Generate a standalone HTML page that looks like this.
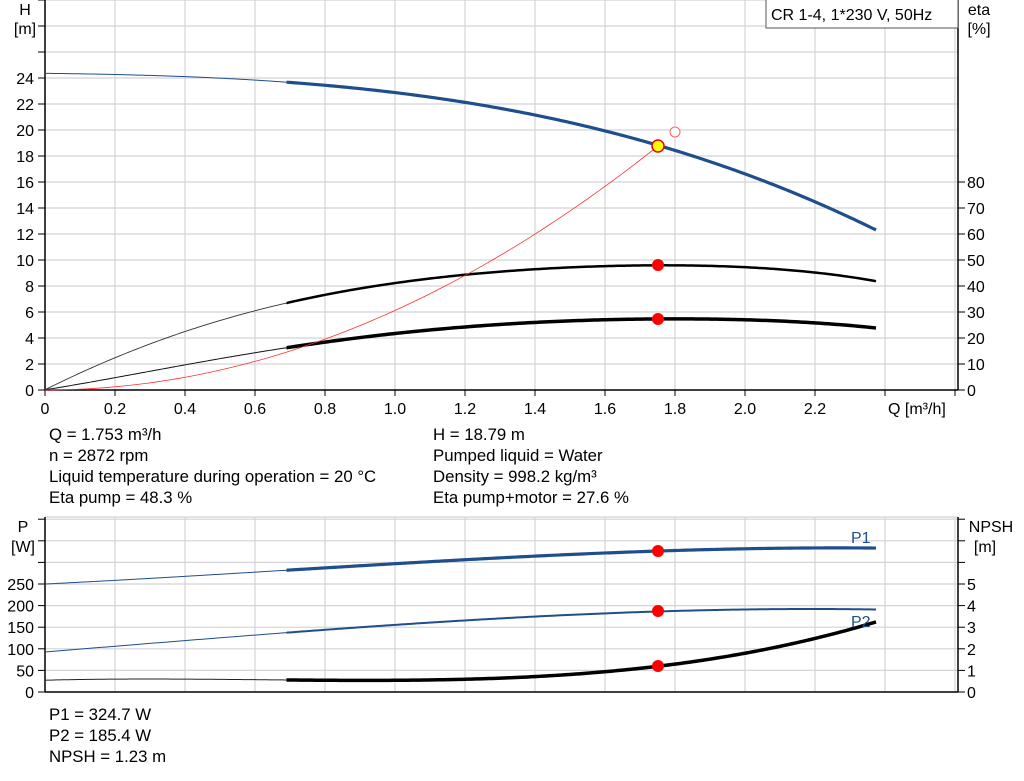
<!DOCTYPE html>
<html><head><meta charset="utf-8"><style>
html,body{margin:0;padding:0;background:#fff;}
svg{display:block;font-family:"Liberation Sans",Arial,sans-serif;}
</style></head><body>
<svg id="s" width="1024" height="781" viewBox="0 0 1024 781" xmlns="http://www.w3.org/2000/svg">
<defs>
<clipPath id="thin"><rect x="0" y="0" width="287" height="781"/></clipPath>
<clipPath id="thick"><rect x="286.5" y="0" width="700" height="781"/></clipPath>
</defs>
<g id="grid"></g>
<g id="curves"></g>
<g font-size="16" fill="#000">
<text x="25" y="15" text-anchor="middle">H</text>
<text x="25" y="34" text-anchor="middle">[m]</text>
<text x="979" y="15" text-anchor="middle">eta</text>
<text x="979" y="34" text-anchor="middle">[%]</text>
<text x="888" y="414">Q [m³/h]</text>
<rect x="766" y="-1" width="192" height="29" fill="#fff" stroke="#555" stroke-width="1"/>
<text x="771" y="20">CR 1-4, 1*230 V, 50Hz</text>
<g font-size="16.8">
<text x="49" y="440">Q = 1.753 m³/h</text>
<text x="49" y="461">n = 2872 rpm</text>
<text x="49" y="482">Liquid temperature during operation = 20 °C</text>
<text x="49" y="503">Eta pump = 48.3 %</text>
<text x="433" y="440">H = 18.79 m</text>
<text x="433" y="461">Pumped liquid = Water</text>
<text x="433" y="482">Density = 998.2 kg/m³</text>
<text x="433" y="503">Eta pump+motor = 27.6 %</text>
<text x="49" y="720">P1 = 324.7 W</text>
<text x="49" y="741">P2 = 185.4 W</text>
<text x="49" y="762">NPSH = 1.23 m</text>
</g>
<text x="23" y="532" text-anchor="middle">P</text>
<text x="23" y="552" text-anchor="middle">[W]</text>
<text x="991" y="532" text-anchor="middle">NPSH</text>
<text x="985" y="552" text-anchor="middle">[m]</text>
<text x="851" y="543" fill="#1f4e8c">P1</text>
<text x="851" y="627" fill="#1f4e8c">P2</text>
</g>
<g id="labels" font-size="16"></g>
</svg>
<script>
const NS="http://www.w3.org/2000/svg";
function el(p,t,a,txt){const e=document.createElementNS(NS,t);for(const k in a)e.setAttribute(k,a[k]);if(txt!==undefined)e.textContent=txt;document.getElementById(p).appendChild(e);return e;}
function line(x1,y1,x2,y2,c,w,p){el(p||"grid","line",{x1,y1,x2,y2,stroke:c,"stroke-width":w});}
const G="#d4d4d8";
for(let i=1;i<=13;i++){const x=45+70*i;if(x<958)line(x,0,x,390,G,1.2);}
for(let v=2;v<=30;v+=2){const y=390-13*v;line(45,y,958,y,G,1.2);}
for(let v=0;v<=30;v+=2){const y=390-13*v;line(38,y,45,y,"#000",1);if(v<=24)el("labels","text",{x:34,y:y+6,"text-anchor":"end"},String(v));}
for(let v=0;v<=80;v+=10){const y=390-2.6*v;line(958,y,965,y,"#000",1);el("labels","text",{x:967,y:y+6},String(v));}
for(let i=0;i<=13;i++){const x=45+70*i;line(x,390,x,396,"#000",1);if(i>=1&&i<=11)el("labels","text",{x:x,y:414,"text-anchor":"middle"},(i*0.2).toFixed(1));}
el("labels","text",{x:45,y:414,"text-anchor":"middle"},"0");
line(45,0,45,390,"#000",1.5);line(958,0,958,390,"#000",1.5);line(45,390,958,390,"#000",1.5);
for(let i=1;i<=13;i++){const x=45+70*i;if(x<958)line(x,517,x,692,G,1.2);}
for(let k=1;k<=8;k++){const y=692-21.6*k;line(45,y,958,y,G,1.2);}
line(45,517,958,517,G,1.2);
for(let k=0;k<=8;k++){const y=692-21.6*k;line(38,y,45,y,"#000",1);line(958,y,965,y,"#000",1);
 if(k<=5){el("labels","text",{x:34,y:y+6,"text-anchor":"end"},String(k*50));el("labels","text",{x:967,y:y+6},String(k));}}
line(45,517,45,692,"#000",1.5);line(958,517,958,692,"#000",1.5);line(45,692,958,692,"#000",1.5);
// least squares polynomial fit
function fit(pts,deg){const n=deg+1;const A=[...Array(n)].map(()=>Array(n+1).fill(0));
 for(const [x0,y] of pts){const x=(x0-45)/100;const p=[];for(let k=0;k<2*n;k++)p.push(Math.pow(x,k));
  for(let i=0;i<n;i++){for(let j=0;j<n;j++)A[i][j]+=p[i+j];A[i][n]+=p[i]*y;}}
 for(let i=0;i<n;i++){let m=i;for(let r=i+1;r<n;r++)if(Math.abs(A[r][i])>Math.abs(A[m][i]))m=r;[A[i],A[m]]=[A[m],A[i]];
  for(let r=0;r<n;r++)if(r!=i){const f=A[r][i]/A[i][i];for(let c=i;c<=n;c++)A[r][c]-=f*A[i][c];}}
 const c=A.map((r,i)=>r[n]/r[i]);return x0=>{const x=(x0-45)/100;let s=0;for(let k=n-1;k>=0;k--)s=s*x+c[k];return s;};}
function pathOf(f,a,b){let d="";for(let x=a;x<=b+0.01;x+=3){d+=(d?" L":"M")+x.toFixed(1)+","+f(x).toFixed(2);}return d;}
function series(pts,deg,cThin,wThin,cThick,wThick){const f=fit(pts,deg);const d=pathOf(f,45,876);
 el("curves","path",{d,fill:"none",stroke:cThin,"stroke-width":wThin,"clip-path":"url(#thin)"});
 el("curves","path",{d,fill:"none",stroke:cThick,"stroke-width":wThick,"clip-path":"url(#thick)","stroke-linejoin":"round"});}
const B="#1f4e8c";
series([[45,73],[115,74.5],[185,77],[255,80.5],[325,86],[400,92],[500,108],[600,129],[658,146],[745,174],[815,203],[876,229]],3,B,1,B,3.2);
series([[45,390],[115,357],[185,332],[255,312],[286,304],[325,292],[465,276],[605,266],[658,265],[745,267],[815,273],[876,281]],5,"#333",0.9,"#000",2.5);
series([[45,390],[115,377],[185,365],[255,354],[325,341],[465,327],[605,320],[658,319],[745,319.5],[815,323],[876,328]],5,"#111",1,"#000",3.5);
let sp="";for(let i=0;i<=60;i++){const x=45+613*i/60;sp+=(i?" L":"M")+x.toFixed(1)+","+(390-244*Math.pow((x-45)/613,2)).toFixed(2);}
el("curves","path",{d:sp,fill:"none",stroke:"#ff3030","stroke-width":0.8});
el("curves","circle",{cx:675,cy:132,r:5,fill:"#fff",stroke:"#ff6060","stroke-width":1});
el("curves","circle",{cx:658,cy:146,r:6,fill:"#ffff00",stroke:"#e00","stroke-width":1.5});
el("curves","circle",{cx:658,cy:265,r:6,fill:"#f00"});
el("curves","circle",{cx:658,cy:319,r:6,fill:"#f00"});
series([[45,584],[185,576.5],[286,570],[465,560],[605,553],[658,550.7],[745,549],[815,548],[876,548]],3,B,1,B,3.2);
series([[45,652],[185,640],[286,633.7],[465,620],[605,613],[658,611.3],[745,610],[815,609.5],[876,609]],3,B,1,B,2);
series([[45,680],[185,680],[286,679.5],[400,679.3],[465,679],[535,677.5],[605,673],[658,665.7],[745,652],[815,639],[876,622]],4,"#222",1,"#000",3.5);
el("curves","circle",{cx:658,cy:551,r:6,fill:"#f00"});
el("curves","circle",{cx:658,cy:611,r:6,fill:"#f00"});
el("curves","circle",{cx:658,cy:666,r:6,fill:"#f00"});
</script>
</body></html>
